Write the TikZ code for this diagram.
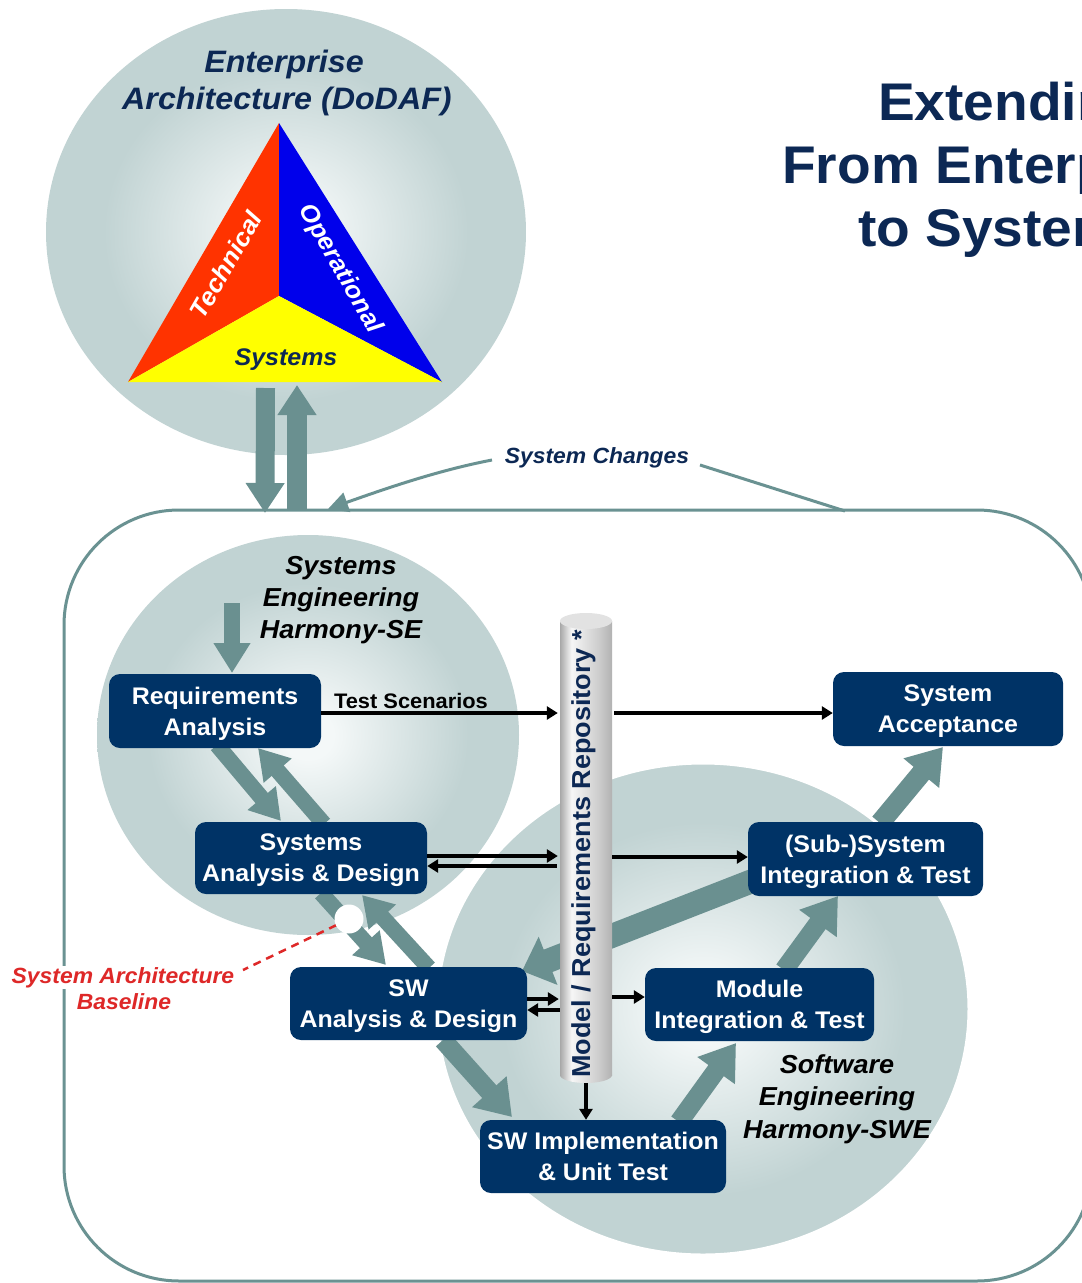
\documentclass[tikz,border=0pt]{standalone}
\usepackage{fontspec}
\setmainfont{Liberation Sans}[FakeStretch=1.04]
\usetikzlibrary{arrows.meta,shapes.geometric}

\definecolor{navy}{RGB}{0,51,102}
\definecolor{tnavy}{RGB}{12,40,84}
\definecolor{agray}{RGB}{106,144,144}
\definecolor{bline}{RGB}{106,146,146}
\definecolor{ballin}{RGB}{244,248,248}
\definecolor{ballout}{RGB}{193,211,211}
\definecolor{tred}{RGB}{255,51,0}
\definecolor{tblue}{RGB}{0,0,235}
\definecolor{tyel}{RGB}{255,255,0}
\definecolor{sabred}{RGB}{222,40,40}
\definecolor{cylA}{RGB}{168,168,168}
\definecolor{cylW}{RGB}{246,246,246}
\definecolor{cylB}{RGB}{205,205,205}
\definecolor{cylC}{RGB}{178,178,178}
\definecolor{cyltop}{RGB}{226,226,226}

\pgfdeclareradialshading{ballsh}{\pgfpoint{0bp}{0bp}}{color(0bp)=(ballin); color(3bp)=(ballin); color(19bp)=(ballout); color(25bp)=(ballout); color(50bp)=(ballout)}
\pgfdeclarehorizontalshading{cylsh}{100bp}{color(0bp)=(cylA); color(25bp)=(cylA); color(36bp)=(cylW); color(62bp)=(cylB); color(75bp)=(cylC); color(100bp)=(cylC)}

\tikzset{
  ball/.style={ellipse, inner sep=0pt, shade, shading=ballsh},
  box/.style={fill=navy, rounded corners=11pt, text=white, font=\bfseries\fontsize{24}{31}\selectfont, align=center, inner sep=0pt, text depth=0pt},
  blk/.style={draw=black, line width=3.3pt, -{Triangle[width=13pt,length=11pt]}},
  fat/.style n args={3}{draw=agray, line width=#1, -{Triangle[width=#2,length=#3]}},
  lbl/.style={font=\bfseries\itshape\fontsize{26}{32}\selectfont, anchor=base, inner sep=0pt},
  ttl/.style={font=\bfseries\fontsize{53}{63}\selectfont, text=tnavy, anchor=base west, inner sep=0pt},
  eal/.style={font=\bfseries\itshape\fontsize{31}{37}\selectfont, text=tnavy, anchor=base, inner sep=0pt},
  sab/.style={font=\bfseries\itshape\fontsize{22}{26}\selectfont, text=sabred, anchor=base, fill=white, inner sep=1pt},
}

\begin{document}
\begin{tikzpicture}[x=1pt,y=-1pt]
\useasboundingbox (0,0) rectangle (1082,1283);
\fill[white] (0,0) rectangle (1082,1283);

% title (runs off the right edge)
\node[ttl] (t1) at (878,120) {Extending};
\node[ttl] (t2) at (782,183) {From Enterprise};
\node[ttl] (t3) at (858,246) {to Systems};

% enterprise architecture circle
\node[ball, minimum width=480pt, minimum height=446pt] (ea) at (286,232) {};
\coordinate (tA) at (279,123);
\coordinate (tL) at (128,382);
\coordinate (tR) at (442,382);
\coordinate (tC) at (279,296);
\fill[tred] (tA) -- (tL) -- (tC) -- cycle;
\fill[tblue] (tA) -- (tC) -- (tR) -- cycle;
\fill[tyel] (tL) -- (tR) -- (tC) -- cycle;
\node[font=\bfseries\itshape\fontsize{25}{30}\selectfont, text=white, rotate=60] (tech) at (226,265) {Technical};
\node[font=\bfseries\itshape\fontsize{25}{30}\selectfont, text=white, rotate=-60] (oper) at (340,269) {Operational};
\node[font=\bfseries\itshape\fontsize{24}{29}\selectfont, text=tnavy, anchor=base, inner sep=0pt] (sysl) at (286,365) {Systems};
\node[eal] (ea1) at (284,72) {Enterprise};
\node[eal] (ea2) at (287,109) {Architecture (DoDAF)};

% frame
\node[draw=bline, line width=3pt, rounded corners=115pt, minimum width=1028pt, minimum height=771pt, inner sep=0pt] (frame) at (578,895.5) {};

% arrows between EA and frame
\coordinate (ta1) at (265.5,388); \coordinate (ta2) at (265,513);
\draw[fat={19pt}{37pt}{30pt}] (ta1) -- (ta2);
\coordinate (tb1) at (297,510); \coordinate (tb2) at (297,385);
\draw[fat={20pt}{37pt}{30pt}] (tb1) -- (tb2);

% system changes
\node[font=\bfseries\itshape\fontsize{22}{26}\selectfont, text=tnavy, anchor=base, inner sep=0pt] (sc) at (597,463) {System Changes};
\coordinate (sca) at (492,460); \coordinate (scb) at (328,509);
\draw[draw=bline, line width=3pt, -{Triangle[width=20pt,length=20pt]}] (sca) .. controls (440,470) and (390,487) .. (scb);
\coordinate (scc) at (700,465); \coordinate (scd) at (845,511);
\draw[bline, line width=3pt] (scc) -- (scd);

% process circles
\node[ball, minimum width=422pt, minimum height=400pt] (se) at (308,735) {};
\node[ball, draw=white, line width=3pt, minimum width=532pt, minimum height=492pt] (swe) at (703,1009) {};

% thick process arrows
\coordinate (a0s) at (232,603); \coordinate (a0e) at (232,673);
\draw[fat={16pt}{35pt}{30pt}] (a0s) -- (a0e);
\coordinate (a1s) at (217,745); \coordinate (a1e) at (281,821);
\draw[fat={16pt}{35pt}{30pt}] (a1s) -- (a1e);
\coordinate (a2s) at (324,824); \coordinate (a2e) at (258,748);
\draw[fat={16pt}{35pt}{30pt}] (a2s) -- (a2e);
\coordinate (a3s) at (321,893); \coordinate (a3e) at (386,965);
\draw[fat={16pt}{35pt}{30pt}] (a3s) -- (a3e);
\coordinate (a4s) at (429,968); \coordinate (a4e) at (362,895);
\draw[fat={16pt}{35pt}{30pt}] (a4s) -- (a4e);
\coordinate (a5s) at (443,1040); \coordinate (a5e) at (512,1117);
\draw[fat={19pt}{44pt}{34pt}] (a5s) -- (a5e);
\coordinate (a6s) at (679,1122); \coordinate (a6e) at (736,1043);
\draw[fat={19pt}{44pt}{34pt}] (a6s) -- (a6e);
\coordinate (a7s) at (784,970); \coordinate (a7e) at (838,896);
\draw[fat={19pt}{44pt}{34pt}] (a7s) -- (a7e);
\coordinate (a8s) at (760,878); \coordinate (a8e) at (522,971);
\draw[fat={24pt}{50pt}{28pt}] (a8s) -- (a8e);
\coordinate (a9s) at (880,823); \coordinate (a9e) at (943,747);
\draw[fat={20pt}{44pt}{34pt}] (a9s) -- (a9e);

% repository cylinder (in front of the thick arrows)
\shade[shading=cylsh] (586,1075) ellipse [x radius=26pt, y radius=8pt];
\shade[shading=cylsh] (560,621) rectangle (612,1075);
\fill[cyltop] (586,621) ellipse [x radius=26pt, y radius=8pt];
\node[inner sep=0pt, minimum width=52pt, minimum height=470pt] (repo) at (586,848) {};
\node[rotate=90, anchor=base, inner sep=0pt, font=\bfseries\fontsize{26}{30}\selectfont, text=tnavy] (repotxt) at (590,854) {Model / Requirements Repository *};

% boxes
\node[box, minimum width=212pt, minimum height=74pt] (req) at (215,711) {Requirements\\Analysis};
\node[box, minimum width=232pt, minimum height=72pt] (sad) at (311,858) {Systems\\Analysis \& Design};
\node[box, minimum width=237pt, minimum height=73pt] (swad) at (408.5,1003.5) {SW\\Analysis \& Design};
\node[box, minimum width=246pt, minimum height=73pt] (swimp) at (603,1156.5) {SW Implementation\\\& Unit Test};
\node[box, minimum width=229pt, minimum height=73pt] (mod) at (759.5,1004.5) {Module\\Integration \& Test};
\node[box, minimum width=235pt, minimum height=74pt] (sub) at (865.5,859) {(Sub-)System\\Integration \& Test};
\node[box, minimum width=230pt, minimum height=74pt] (acc) at (948,709) {System\\Acceptance};

% black arrows
\draw[blk, shorten >=2pt] (req.east |- 0,713) -- (repo.west |- 0,713);
\node[font=\bfseries\fontsize{21}{25}\selectfont, anchor=base, inner sep=0pt] (tsc) at (411,708) {Test Scenarios};
\draw[blk] ([xshift=2pt]repo.east |- 0,713) -- (acc.west |- 0,713);
\draw[blk, shorten >=2pt] (sad.east |- 0,856) -- (repo.west |- 0,856);
\draw[blk] ([xshift=-3pt]repo.west |- 0,866) -- (sad.east |- 0,866);
\draw[blk] (repo.east |- 0,857) -- (sub.west |- 0,857);
\draw[blk, shorten >=1pt] (swad.east |- 0,999) -- (repo.west |- 0,999);
\draw[blk] (repo.west |- 0,1010) -- (swad.east |- 0,1010);
\draw[blk] (repo.east |- 0,997) -- (mod.west |- 0,997);
\draw[blk] (repo.south) -- (swimp.north -| repo.south);

% circle labels
\node[lbl] (se1) at (341,574) {Systems};
\node[lbl] (se2) at (341,606) {Engineering};
\node[lbl] (se3) at (341,638) {Harmony-SE};
\node[lbl] (sw1) at (837,1073) {Software};
\node[lbl] (sw2) at (837,1105) {Engineering};
\node[lbl] (sw3) at (837,1138) {Harmony-SWE};

% system architecture baseline
\coordinate (sabe) at (243,970);
\draw[sabred, line width=2.5pt, dash pattern=on 8pt off 6pt] (349,919) -- (sabe);
\node[circle, fill=white, minimum size=29pt, inner sep=0pt] (wc) at (349,919) {};
\node[sab] (sab1) at (123,983) {System Architecture};
\node[sab] (sab2) at (124,1009) {Baseline};
\end{tikzpicture}
\end{document}
